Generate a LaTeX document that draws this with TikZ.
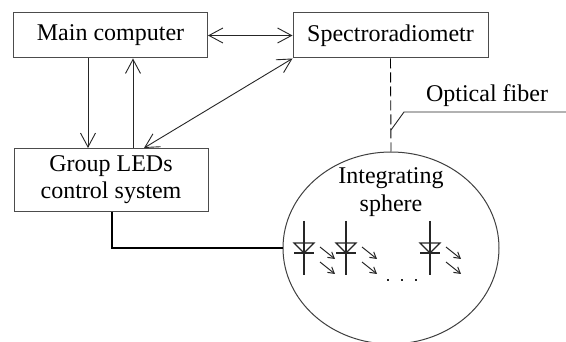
\documentclass[tikz,border=0pt]{standalone}
\usepackage{fontspec}
\setmainfont{Liberation Serif}
\usetikzlibrary{arrows.meta,shapes.geometric}
\begin{document}
\begin{tikzpicture}[x=1pt,y=-1pt,
  box/.style={draw=black!70,line width=1pt,minimum width=194pt,inner sep=0pt,font=\fontsize{24}{27}\selectfont,align=center},
  conn/.style={draw=black!85,line width=0.9pt},
  arr/.style={conn,-{Straight Barb[length=14pt,width=15pt]}},
  darr/.style={conn,{Straight Barb[length=14pt,width=15pt]}-{Straight Barb[length=14pt,width=15pt]}},
  led/.style={draw=black!85,line width=1.1pt},
  ray/.style={draw=black!85,line width=1pt,-{Straight Barb[length=6pt,width=7pt]}}]
\useasboundingbox (0,0) rectangle (566,342);
\fill[white] (0,0) rectangle (566,342);
\node[box,minimum height=45pt] (main) at (110.5,35.5) {Main computer};
\node[box,minimum height=45pt,minimum width=195pt] (spec) at (390.5,35.5) {Spectroradiometr};
\node[box,minimum height=63pt] (grp) at (111,180) {Group LEDs\\control system};
\node[ellipse,draw=black!75,line width=1pt,minimum width=216pt,minimum height=192pt,inner sep=0pt] (sph) at (391,248) {};
\node[font=\fontsize{24}{28}\selectfont,align=center] (sphtext) at (391,192) {Integrating\\sphere};
% arrows
\draw[arr] (88,0 |- main.south) -- (88,0 |- grp.north);
\draw[arr] (133,0 |- grp.north) -- (133,0 |- main.south);
\draw[darr] (main.east) -- (spec.west);
\draw[darr] (144,0 |- grp.north) -- (spec.south west);
% optical fiber
\draw[conn,draw=black,dash pattern=on 10pt off 4pt] (spec.south) -- (sph.north);
\coordinate (fa) at (391,130);
\coordinate (fb) at (404,112);
\coordinate (fc) at (566,112);
\draw[conn] (fa) -- (fb) -- (fc);
\node[font=\fontsize{24}{27}\selectfont] (fib) at (487,96) {Optical fiber};
% bold wire
\draw[line width=2pt,black] (112,0 |- grp.south) |- (sph.west);
% diodes
\foreach \x in {304,346,430}{
  \draw[led] (\x,221) -- (\x,275);
  \draw[led] (\x-10,243) -- (\x+10,243) -- (\x,253) -- cycle;
  \draw[led] (\x-10,253) -- (\x+10,253);
  \draw[ray] (\x+16,247) -- (\x+31,259);
  \draw[ray] (\x+16,262) -- (\x+31,274);
}
\foreach \x in {388,402,416}{\fill[black!85] (\x-1.2,278.8) rectangle (\x+1.2,281.2);}
\end{tikzpicture}
\end{document}
